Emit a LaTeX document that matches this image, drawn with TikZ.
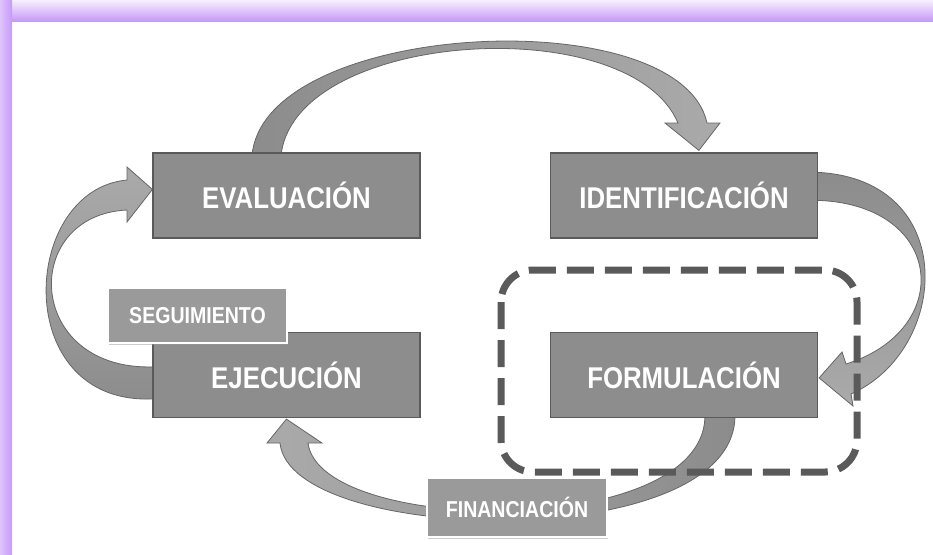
\documentclass[tikz,border=0pt]{standalone}
\usepackage{fontspec}
\usetikzlibrary{shadows,backgrounds}
\newfontfamily\cajafont[FakeStretch=0.86]{Liberation Sans}
\newfontfamily\etiqfont[FakeStretch=0.85]{Liberation Sans}
\definecolor{caja}{HTML}{8D8D8D}
\definecolor{borde}{HTML}{5A5A5A}
\definecolor{etiq}{HTML}{9A9A9A}
\definecolor{oscuro}{HTML}{8C8C8C}
\definecolor{claro}{HTML}{AAAAAA}
\definecolor{contorno}{HTML}{666666}
\definecolor{lila}{HTML}{C79AF8}
\definecolor{lilaclaro}{HTML}{F6EFFD}
\definecolor{lilamedio}{HTML}{DEC4FB}

\begin{document}
\begin{tikzpicture}[x=1pt,y=-1pt,
	etapa/.style={draw=borde,line width=1.2pt,fill=caja,minimum width=267pt,minimum height=85pt,inner sep=0pt,text=white,font=\cajafont\bfseries\fontsize{30}{30}\selectfont},
	etiqueta/.style={draw=white,line width=2.5pt,fill=etiq,inner sep=0pt,text=white,font=\etiqfont\bfseries\fontsize{23}{23}\selectfont,drop shadow={shadow xshift=1pt,shadow yshift=-1.5pt,fill=black!40}},
	flecha/.style={draw=contorno,line width=0.8pt},
	grupo/.style={draw=borde,line width=7pt,dash pattern=on 27pt off 11pt,rounded corners=32pt}]
			\useasboundingbox (0,0) rectangle (933,554);

			% etapas del ciclo
			\node[etapa] (eval) at (286.5,195.5) {EVALUACIÓN};
			\node[etapa] (ident) at (684,195.5) {IDENTIFICACIÓN};
			\node[etapa] (ejec) at (286.5,375) {EJECUCIÓN};
			\node[etapa] (form) at (684,375) {FORMULACIÓN};

			\node[etiqueta,minimum width=179pt,minimum height=55pt] (segui) at (197.5,315.5) {SEGUIMIENTO};
			\node[etiqueta,minimum width=180pt,minimum height=59pt] (finan) at (517,507.5) {FINANCIACIÓN};

			\draw[grupo] (501,270) rectangle (857,472);

			\begin{scope}[on background layer]
			\fill[white] (0,0) rectangle (933,554);
			\shade[top color=lilaclaro,middle color=lilamedio,bottom color=lila] (0,0) rectangle (933,21);
			\shade[left color=lilamedio,right color=lila] (0,0) rectangle (12,554);

			% flechas curvas
			\path[flecha,left color=oscuro,right color=claro]
				([xshift=100pt,yshift=-5pt]eval.north west) -- ([xshift=100pt]eval.north west)
				.. controls (270,20) and (680,0) .. (707,123) -- (720,123)
				-- ([xshift=149pt,yshift=2pt]ident.north west) -- (665,123) -- (678,123)
				.. controls (630,10) and (300,30) .. ([xshift=129pt]eval.north west)
				-- ([xshift=129pt,yshift=-5pt]eval.north west) -- cycle;
			\path[flecha,top color=oscuro,bottom color=claro]
				([xshift=-5pt,yshift=-20pt]ident.north east) -- ([yshift=-20pt]ident.north east)
				.. controls (960,180) and (950,350) .. (851,394) -- (853,406)
				-- ([xshift=1pt,yshift=-46pt]form.north east) -- (842,352) -- (846,364)
				.. controls (955,330) and (945,205) .. ([yshift=-48pt]ident.north east)
				-- ([xshift=-5pt,yshift=-48pt]ident.north east) -- cycle;
			\path[flecha,right color=oscuro,left color=claro]
				([xshift=185pt,yshift=5pt]form.south west) -- ([xshift=185pt]form.south west)
				.. controls (730,555) and (290,545) .. (280,443) -- (267,443)
				-- ([xshift=134pt,yshift=-1pt]ejec.south west) -- (322,443) -- (308,443)
				.. controls (320,535) and (700,540) .. ([xshift=155pt]form.south west)
				-- ([xshift=155pt,yshift=5pt]form.south west) -- cycle;
			\path[flecha,bottom color=oscuro,top color=claro]
				([xshift=5pt,yshift=-67pt]ejec.north west) -- ([yshift=-67pt]ejec.north west)
				.. controls (10,405) and (20,190) .. (127,180) -- (127,167)
				-- ([yshift=-37pt]eval.north west) -- (127,222) -- (127,210)
				.. controls (20,215) and (25,370) .. ([yshift=-35pt]ejec.north west)
				-- ([xshift=5pt,yshift=-35pt]ejec.north west) -- cycle;
			\end{scope}
			\end{tikzpicture}
\end{document}
